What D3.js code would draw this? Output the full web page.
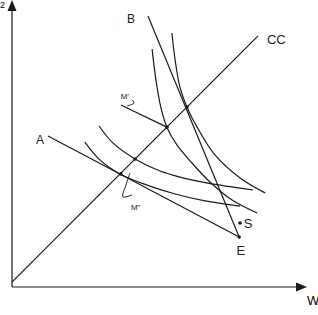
<!DOCTYPE html>
<html>
<head>
<meta charset="utf-8">
<script src="https://cdn.jsdelivr.net/npm/d3@7"></script>
<style>
  html, body { margin: 0; padding: 0; background: #fff; }
  svg { display: block; font-family: "Liberation Sans", Arial, sans-serif; }
</style>
</head>
<body>
<svg id="chart" width="318" height="315"></svg>
<script>
'use strict';

// Values in chart units (0..100 on both axes)
const contractCurve = [[0, 1.7], [83.4, 87.5]];
const endowment = [77.0, 17.4];
const budgetA = [[12.2, 52.6], endowment];
const budgetB = [[46.1, 94.4], endowment];
const pointS = [77.3, 22.3];

const curveA = [[47.5, 82.9], [48.8, 72.1], [50.5, 62.4], [52.5, 55.7], [55.9, 49.5],
  [61.0, 43.2], [67.1, 36.6], [74.6, 30.3], [83.1, 25.8]];
const curveB = [[54.2, 88.5], [55.3, 79.1], [56.9, 69.7], [59.0, 63.4], [61.4, 58.2],
  [68.8, 46.0], [77.3, 38.0], [85.8, 32.8]];
const curveC = [[29.5, 56.1], [34.2, 50.2], [41.7, 44.6], [50.2, 40.4], [56.9, 38.3],
  [66.4, 36.2], [81.7, 33.8]];
const curveD = [[24.7, 50.5], [29.8, 44.3], [36.6, 39.4], [45.8, 35.5], [55.3, 32.4],
  [65.4, 30.0], [77.3, 28.2]];

const tangencyPoints = [[52.5, 55.7], [41.7, 44.6], [36.9, 39.4], [59.3, 62.7]];

const leaderM1 = [[36.9, 63.4], [52.5, 55.7]];
const hookM1 = [[40.7, 65.2], [41.4, 64.1], [39.0, 63.1]];
const hookM2 = [[40.0, 39.7], [38.6, 35.5], [37.6, 31.4], [40.7, 32.1]];

const labels = [
  { text: 'B', at: [40.3, 92.0], anchor: 'middle', size: 12 },
  { text: 'CC', at: [86.4, 84.7], anchor: 'start', size: 13 },
  { text: 'A', at: [9.5, 49.8], anchor: 'middle', size: 12 },
  { text: 'E', at: [77.6, 11.1], anchor: 'middle', size: 13 },
  { text: 'S', at: [78.6, 20.6], anchor: 'start', size: 13 },
  { text: 'M\'', at: [36.9, 65.5], anchor: 'start', size: 8 },
  { text: 'M"', at: [40.3, 26.8], anchor: 'start', size: 8 }
];

const svg = d3.select('#chart');

const x = d3.scaleLinear().domain([0, 100]).range([12, 307]);
const y = d3.scaleLinear().domain([0, 100]).range([287, 0]);

const stroke = '#1a1a1a';

const straight = d3.line().x(d => x(d[0])).y(d => y(d[1]));
const smooth = d3.line().x(d => x(d[0])).y(d => y(d[1])).curve(d3.curveCatmullRom.alpha(0.5));

// Axes with arrow heads
svg.append('line')
  .attr('x1', x(0)).attr('y1', y(0))
  .attr('x2', x(0)).attr('y2', y(100) + 8)
  .attr('stroke', stroke).attr('stroke-width', 1.2);
svg.append('line')
  .attr('x1', x(0)).attr('y1', y(0))
  .attr('x2', x(100) - 8).attr('y2', y(0))
  .attr('stroke', stroke).attr('stroke-width', 1.2);

svg.append('path')
  .attr('d', `M${x(0)},${y(100)} L${x(0) - 4.5},${y(100) + 11} L${x(0) + 4.5},${y(100) + 11} Z`)
  .attr('fill', stroke);
svg.append('path')
  .attr('d', `M${x(100)},${y(0)} L${x(100) - 11},${y(0) - 4.5} L${x(100) - 11},${y(0) + 4.5} Z`)
  .attr('fill', stroke);

// Axis captions (the y one sits at the very corner, as in the picture)
svg.append('text')
  .attr('x', 0).attr('y', 8)
  .attr('font-size', 9)
  .text('2');
svg.append('text')
  .attr('x', x(100)).attr('y', y(0) + 18)
  .attr('font-size', 13)
  .text('W');

// Straight lines: contract curve and both budget lines
[contractCurve, budgetA, budgetB, leaderM1].forEach(pts => {
  svg.append('path')
    .attr('d', straight(pts))
    .attr('fill', 'none')
    .attr('stroke', stroke)
    .attr('stroke-width', 1.2);
});

// Indifference curves
[curveA, curveB, curveC, curveD].forEach(pts => {
  svg.append('path')
    .attr('d', smooth(pts))
    .attr('fill', 'none')
    .attr('stroke', stroke)
    .attr('stroke-width', 1.2);
});

// Little callout hooks next to M' and M"
[hookM1, hookM2].forEach(pts => {
  svg.append('path')
    .attr('d', smooth(pts))
    .attr('fill', 'none')
    .attr('stroke', stroke)
    .attr('stroke-width', 1);
});

svg.selectAll('circle.tangency')
  .data(tangencyPoints)
  .enter()
  .append('circle')
  .attr('class', 'tangency')
  .attr('cx', d => x(d[0]))
  .attr('cy', d => y(d[1]))
  .attr('r', 1.8)
  .attr('fill', stroke);

svg.selectAll('circle.marker')
  .data([endowment, pointS])
  .enter()
  .append('circle')
  .attr('class', 'marker')
  .attr('cx', d => x(d[0]))
  .attr('cy', d => y(d[1]))
  .attr('r', 1.8)
  .attr('fill', stroke);

svg.selectAll('text.label')
  .data(labels)
  .enter()
  .append('text')
  .attr('class', 'label')
  .attr('x', d => x(d.at[0]))
  .attr('y', d => y(d.at[1]))
  .attr('text-anchor', d => d.anchor)
  .attr('font-size', d => d.size)
  .attr('fill', '#222')
  .text(d => d.text);
</script>
</body>
</html>
